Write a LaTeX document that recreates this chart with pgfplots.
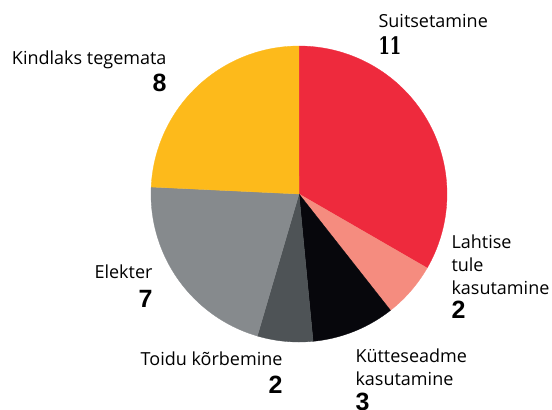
\documentclass[border=0pt]{standalone}
\usepackage{fontspec}
\setmainfont{Open Sans}
\newfontfamily\numfont{Liberation Sans}
\newfontfamily\slabfont{DejaVu Serif}
\usepackage{graphicx}
\usepackage{pgfplots}
\pgfplotsset{compat=1.18}

\definecolor{cRed}{HTML}{EE2A3D}
\definecolor{cSalmon}{HTML}{F58C7F}
\definecolor{cBlack}{HTML}{07070C}
\definecolor{cDark}{HTML}{4E5356}
\definecolor{cGray}{HTML}{868A8D}
\definecolor{cYellow}{HTML}{FDBA1B}

% slice values, clockwise from the top
\def\vA{11}\def\vB{2}\def\vC{3}\def\vD{2}\def\vE{7}\def\vF{8}
\pgfmathsetmacro\tot{\vA+\vB+\vC+\vD+\vE+\vF}
\pgfmathsetmacro\aA{90}
\pgfmathsetmacro\aB{\aA-\vA/\tot*360}
\pgfmathsetmacro\aC{\aB-\vB/\tot*360}
\pgfmathsetmacro\aD{\aC-\vC/\tot*360}
\pgfmathsetmacro\aE{\aD-\vD/\tot*360}
\pgfmathsetmacro\aF{\aE-\vE/\tot*360}
\pgfmathsetmacro\aG{\aF-\vF/\tot*360}
\def\R{148}

\newcommand\slice[3]{%
  \addplot[fill=#3, draw=#3, line width=0.3pt, domain=#2:#1, samples=80, variable=\t]
    ({\R*cos(\t)},{\R*sin(\t)}) -- (axis cs:0,0) -- cycle;}

\begin{document}
\begin{tikzpicture}
\begin{axis}[
  x=1bp, y=1bp,
  xmin=-299, xmax=253, ymin=-215, ymax=194,
  enlargelimits=false,
  hide axis, clip=false,
  every node/.style={inner sep=0pt, outer sep=0pt},
  ]
  \coordinate (ll) at (rel axis cs:0,0);
  \coordinate (ur) at (rel axis cs:1,1);
  \slice{\aA}{\aB}{cRed}
  \slice{\aB}{\aC}{cSalmon}
  \slice{\aC}{\aD}{cBlack}
  \slice{\aD}{\aE}{cDark}
  \slice{\aE}{\aF}{cGray}
  \slice{\aF}{\aG}{cYellow}

  \def\lbl{\fontsize{18bp}{22bp}\selectfont}
  \def\num{\fontsize{25bp}{28bp}\selectfont\numfont\bfseries}
  % Suitsetamine
  \node[anchor=base west] at (axis cs:76,167) {\lbl Suitsetamine};
  \node[anchor=base west] at (axis cs:76,140) {\scalebox{0.68}[1]{\fontsize{24bp}{26bp}\selectfont\slabfont\bfseries 11}};
  % Kindlaks tegemata
  \node[anchor=base east] at (axis cs:-129,130) {\lbl Kindlaks tegemata};
  \node[anchor=base east] at (axis cs:-129,103) {\num 8};
  % Lahtise tule kasutamine
  \node[anchor=base west] at (axis cs:149,-54) {\lbl Lahtise};
  \node[anchor=base west] at (axis cs:149,-77) {\lbl tule};
  \node[anchor=base west] at (axis cs:149,-100) {\lbl kasutamine};
  \node[anchor=base west] at (axis cs:149,-124) {\num 2};
  % Kütteseadme kasutamine
  \node[anchor=base west] at (axis cs:53,-168) {\lbl Kütteseadme};
  \node[anchor=base west] at (axis cs:53,-191) {\lbl kasutamine};
  \node[anchor=base west] at (axis cs:53,-216) {\num 3};
  % Toidu kõrbemine
  \node[anchor=base east] at (axis cs:-13,-171) {\lbl Toidu kõrbemine};
  \node[anchor=base east] at (axis cs:-13,-199) {\num 2};
  % Elekter
  \node[anchor=base east] at (axis cs:-143,-84) {\lbl Elekter};
  \node[anchor=base east] at (axis cs:-143,-113) {\num 7};
\end{axis}
\pgfresetboundingbox
\useasboundingbox (ll) rectangle (ur);
\end{tikzpicture}
\end{document}
